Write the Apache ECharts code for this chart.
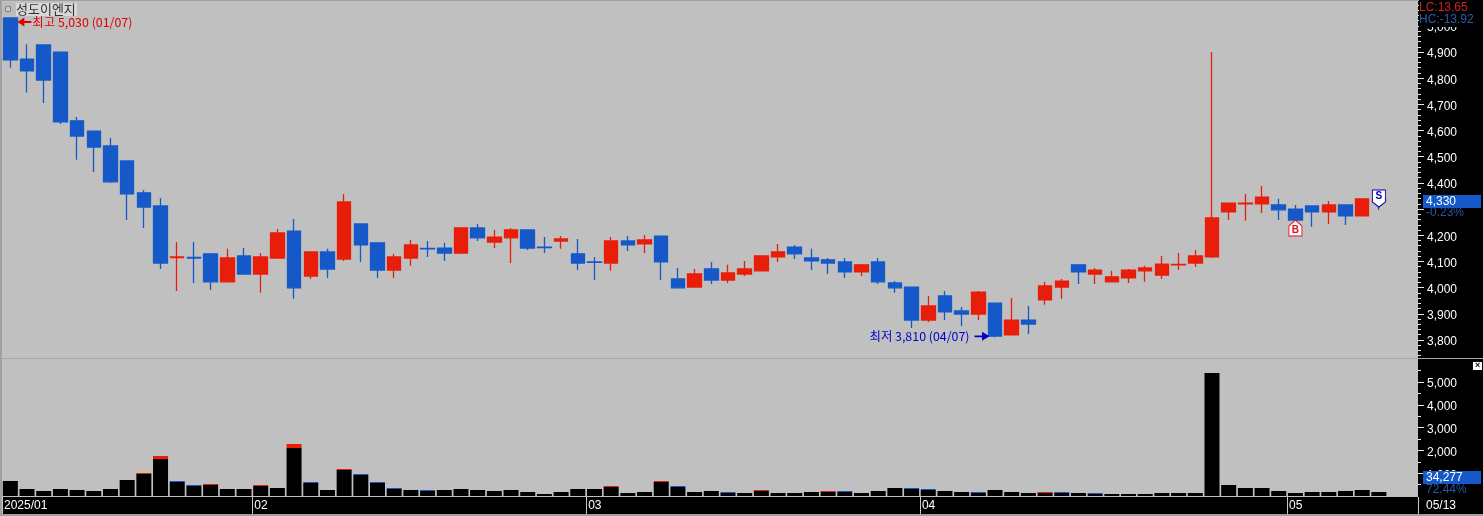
<!DOCTYPE html>
<html><head><meta charset="utf-8">
<style>html,body{margin:0;padding:0;background:#000;overflow:hidden}#c{width:1483px;height:516px}</style>
<script src="https://cdn.jsdelivr.net/npm/echarts@6/dist/echarts.min.js"></script>
</head><body><div id="c"></div>
<script>
const dates=['01/07','01/08','01/09','01/10','01/13','01/14','01/15','01/16','01/17','01/20','01/21','01/22','01/23','01/24','01/31',
'02/03','02/04','02/05','02/06','02/07','02/10','02/11','02/12','02/13','02/14','02/17','02/18','02/19','02/20','02/21','02/24','02/25','02/26','02/27','02/28',
'03/04','03/05','03/06','03/07','03/10','03/11','03/12','03/13','03/14','03/17','03/18','03/19','03/20','03/21','03/24','03/25','03/26','03/27','03/28','03/31',
'04/01','04/02','04/03','04/04','04/07','04/08','04/09','04/10','04/11','04/14','04/15','04/16','04/17','04/18','04/21','04/22','04/23','04/24','04/25','04/28','04/29','04/30',
'05/02','05/07','05/08','05/09','05/12','05/13','',' '];
const open=[5030,4873,4927,4900,4637,4598,4541,4484,4362,4312,4115,4115,4129,4022,4121,4052,4113,4216,4044,4136,4109,4243,4171,4067,4113,4150,4151,4132,4228,4174,4190,4220,4155,4178,4129,4098,4094,4178,4167,4197,4033,4002,4071,4029,4052,4064,4117,4155,4113,4106,4098,4060,4098,4018,4002,3876,3968,3911,3899,3941,3819,3876,3953,4002,4087,4052,4022,4037,4064,4048,4087,4094,4117,4289,4320,4320,4316,4300,4312,4289,4316,4274,4340];
const close=[4870,4828,4793,4633,4579,4537,4404,4358,4308,4094,4117,4113,4022,4113,4052,4117,4209,3999,4136,4071,4327,4163,4067,4117,4163,4148,4132,4228,4190,4193,4220,4151,4153,4186,4094,4096,4178,4163,4182,4098,3999,4052,4029,4056,4071,4121,4136,4129,4102,4094,4060,4087,4022,3999,3876,3930,3907,3899,3983,3815,3876,3861,4006,4025,4060,4067,4041,4067,4075,4090,4089,4121,4266,4323,4323,4346,4297,4258,4289,4316,4274,4339,4330];
const low=[4840,4745,4705,4625,4488,4442,4400,4258,4228,4071,3987,4018,3991,4022,4052,3980,4113,3957,4033,4037,4102,4098,4037,4037,4083,4117,4102,4132,4178,4151,4094,4144,4132,4148,4067,4029,4064,4140,4132,4029,3999,4002,4014,4018,4044,4064,4098,4109,4067,4052,4037,4044,4014,3980,3846,3869,3876,3853,3876,3810,3819,3823,3934,3957,4014,4014,4022,4018,4022,4033,4067,4079,4113,4258,4255,4285,4258,4258,4232,4243,4239,4274,4297];
const high=[5030,4930,4927,4900,4652,4598,4572,4484,4373,4342,4174,4174,4129,4148,4151,4132,4224,4262,4136,4148,4358,4243,4171,4129,4182,4178,4171,4228,4243,4220,4228,4220,4193,4197,4186,4117,4193,4197,4201,4197,4075,4071,4098,4087,4102,4121,4167,4163,4148,4113,4113,4090,4113,4025,4002,3968,3987,3926,3987,3941,3960,3930,4022,4033,4087,4075,4064,4071,4083,4121,4132,4144,4900,4323,4358,4388,4339,4316,4312,4331,4316,4339,4345];
const volBlack=[658,307,219,307,263,219,307,702,965,1623,614,439,482,307,307,439,351,2105,570,263,1140,921,570,307,263,219,263,307,263,219,263,175,88,175,307,307,395,132,175,614,395,175,219,132,132,219,132,132,175,175,175,132,219,351,307,263,219,175,132,263,175,132,132,132,132,88,88,88,88,132,132,132,5395,482,351,351,219,132,175,175,219,263,175];
const volRed=[0,0,0,0,0,0,0,0,44,132,0,0,44,0,0,44,0,175,0,0,44,0,0,0,0,0,0,0,0,0,0,0,0,0,0,0,44,0,0,44,0,0,0,0,0,44,0,0,0,44,0,0,0,0,0,0,0,0,0,0,0,0,44,0,0,0,0,0,0,0,0,0,0,0,0,0,0,0,0,0,0,0,0];
const volBlue=[0,0,0,0,0,0,0,0,0,0,44,44,0,0,0,0,0,0,44,0,0,44,44,44,0,44,0,0,0,0,0,0,0,0,0,0,0,0,0,0,44,0,0,44,0,0,0,0,0,0,44,0,0,0,44,44,0,0,44,0,0,0,0,44,0,44,0,0,0,0,0,0,0,0,0,0,0,0,0,0,0,0,0];
const monthTickPositions=[0,15,35,55,77,84.84];
const monthLabelPositions=[0,15,35,55,77];
const monthLabels=['2025/01','02','03','04','05'];
const priceLabels=[3800,3900,4000,4100,4200,4400,4500,4600,4700,4800,4900,5000];
const priceTicks=[3800,3900,4000,4100,4200,4300,4400,4500,4600,4700,4800,4900,5000];
const volumeLabels=[1000,2000,3000,4000,5000];
const volumeMinorTicks=[500,1500,2500,3500,4500,5500];
const priceMinorTicks=[];for(let v=3740;v<=5080;v+=20)priceMinorTicks.push(v);

const RED='#e81e0a',BLUE='#1559c9',BG='#c0c0c0',FONT='"Noto Sans CJK KR","Liberation Sans",sans-serif',NUM='"Liberation Sans",sans-serif';
const AXIS_SHIFT=-2.6;
const fmt=v=>String(v).replace(/\B(?=(\d{3})+$)/g,',');
const candles=dates.map((d,i)=>i<open.length?[open[i],close[i],low[i],high[i]]:'-');
const pad=a=>a.concat(['-','-']);
const yTick=(min,max,grid,labels,ticks,len,show)=>({type:'value',gridIndex:grid,position:'right',offset:AXIS_SHIFT,min,max,
  splitLine:{show:false},axisLine:{show:false,onZero:false},
  axisTick:{show:true,length:len,customValues:ticks,lineStyle:{color:'#e8e8e8',width:1}},
  axisLabel:show?{show:true,customValues:labels,color:'#fff',fontFamily:NUM,fontSize:12,margin:9,verticalAlign:'top',lineHeight:4,formatter:fmt,hideOverlap:false,showMinLabel:true,showMaxLabel:true}:{show:false}});
const flag=(name,coord,path,size,offset,color,text,labelOffset)=>({name,coord,symbol:'path://'+path,symbolSize:size,symbolOffset:offset,
  itemStyle:{color:'#fff',borderColor:color,borderWidth:1},
  label:{show:true,position:'inside',formatter:text,color,fontFamily:NUM,fontSize:10,fontWeight:'bold',offset:labelOffset}});
const arrow=(name,coord,path,size,offset,color,text,pos,dist)=>({name,coord,symbol:'path://'+path,symbolSize:size,symbolOffset:offset,
  itemStyle:{color,borderWidth:0},
  label:{show:true,position:pos,distance:dist,formatter:text,color,fontFamily:FONT,fontSize:12.4}});
const rect=(x,y,w,h,fill,z)=>({type:'rect',silent:true,z:z===undefined?100:z,shape:{x,y,width:w,height:h},style:{fill}});
const text=(x,y,t,fill,f,z)=>({type:'text',silent:true,z:z||110,x,y,style:{text:t,fill,font:f||('12px '+NUM),textVerticalAlign:'middle'}});

const chart=echarts.init(document.getElementById('c'),null,{renderer:'canvas'});
const G=1418.6;
chart.setOption({
  animation:false,backgroundColor:'#000',
  grid:[
    {left:2,top:1,width:G,height:357,borderWidth:0},
    {left:2,top:359,width:G,height:138,borderWidth:0},
    {left:2,top:1,width:G,height:357,borderWidth:0},
    {left:2,top:359,width:G,height:138,borderWidth:0}],
  xAxis:[
    {type:'category',gridIndex:0,data:dates,show:false,boundaryGap:true},
    {type:'category',gridIndex:1,data:dates,show:false,boundaryGap:true,position:'bottom'},
    {type:'category',gridIndex:2,data:dates,show:false},
    {type:'category',gridIndex:3,data:dates,show:false},
    {type:'value',gridIndex:1,position:'bottom',min:0,max:85,splitLine:{show:false},axisLine:{show:false,onZero:false},
     axisTick:{show:true,length:17,customValues:monthTickPositions,lineStyle:{color:'#c8c8c8',width:1}},
     axisLabel:{show:true,customValues:monthLabelPositions,color:'#fff',fontFamily:NUM,fontSize:12,margin:3,align:'left',padding:[0,0,0,2],hideOverlap:false,showMinLabel:true,showMaxLabel:true,
       formatter:v=>monthLabels[monthLabelPositions.indexOf(v)]}}],
  yAxis:[
    yTick(3731,5095,0,priceLabels,priceTicks,6,true),
    yTick(3731,5095,2,null,priceMinorTicks,3,false),
    yTick(-44,6009,1,volumeLabels,volumeLabels,6,true),
    yTick(-44,6009,3,null,volumeMinorTicks,3,false)],
  series:[
    {type:'candlestick',xAxisIndex:0,yAxisIndex:0,data:candles,barWidth:14,
     itemStyle:{color:RED,color0:BLUE,borderColor:RED,borderColor0:BLUE,borderWidth:1.3},
     markPoint:{z:20,data:[
       arrow('high',[dates[0],5030],'M0 5L8 0L8 4L16 4L16 6L8 6L8 10Z',[14,9],[14,4],'#e00000','최고 5,030 (01/07)','right',1),
       arrow('low',[dates[59],3810],'M16 5L8 0L8 4L0 4L0 6L8 6L8 10Z',[15,9],[-13,-1],'#0000c8','최저 3,810 (04/07)','left',5),
       flag('buy',[dates[77],4258],'M6.5 0L13 6L13 16L0 16L0 6Z',[13,16],[0,8],'#e0101c','B',[0,2]),
       flag('sell',[dates[82],4308],'M0 0L13 0L13 12L6.5 17L0 12Z',[13,17],[0,-8.5],'#0000a8','S',[0,-2])]}},
    {type:'bar',xAxisIndex:1,yAxisIndex:2,stack:'v',data:pad(volBlack),barWidth:15,itemStyle:{color:'#000'}},
    {type:'bar',xAxisIndex:1,yAxisIndex:2,stack:'v',data:pad(volRed),barWidth:15,itemStyle:{color:RED}},
    {type:'bar',xAxisIndex:1,yAxisIndex:2,stack:'v',data:pad(volBlue),barWidth:15,itemStyle:{color:BLUE}}],
  graphic:[
    rect(2,1,1416,357,BG,-1),rect(2,359,1416,138,BG,-1),
    rect(0,0,1483,1,'#a0a0a0'),rect(0,0,2,516,'#a0a0a0'),rect(2,358,1481,1,'#a8a8a8'),rect(0,514,1483,2,'#a0a0a0'),
    rect(1419,0,64,27,'#000',101),
    text(1419,8,'LC:13.65','#d02020'),text(1419,20,'HC:-13.92','#2a5cb0'),
    rect(3,3,13,13,'#bcbcbc',101),rect(16,3,61,13,'#d8d8d8',101),
    {type:'rect',silent:true,z:110,shape:{x:5.5,y:6.5,width:5,height:5},style:{fill:'#c8c8c8',stroke:'#808080',lineWidth:1}},
    text(16,9.5,'성도이엔지','#333','13px "Noto Sans CJK KR"'),
    rect(1423,195,58,13,BLUE,101),text(1426,201.5,'4,330','#fff'),text(1426,213,'-0.23%','#2a54a8'),
    rect(1423,471,58,13,BLUE,101),text(1426,477.5,'34,277','#fff'),text(1426,489.5,'72.44%','#2a54a8'),
    rect(1473,362,9,8,'#fff',101),text(1475,366,'×','#000','bold 9px '+NUM),
    text(1426,506,'05/13','#fff')
  ]
});
</script></body></html>
